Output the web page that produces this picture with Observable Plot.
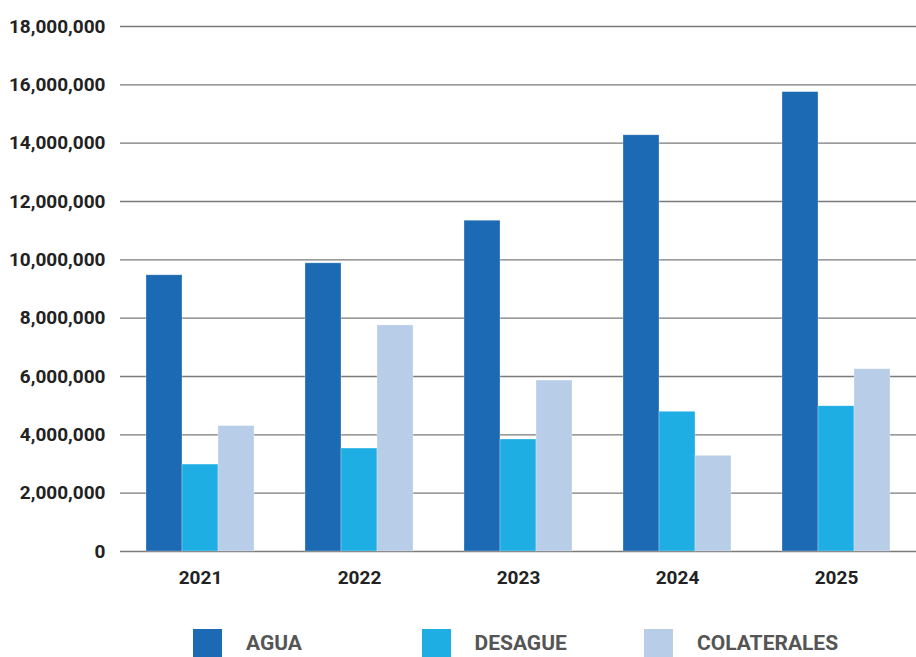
<!DOCTYPE html>
<html>
<head>
<meta charset="utf-8">
<script src="https://cdn.jsdelivr.net/npm/d3@7"></script>
<script src="https://cdn.jsdelivr.net/npm/@observablehq/plot@0.6"></script>
<style>
  body { margin: 0; background: #fff; font-family: Roboto, "Open Sans", sans-serif; }
  #chart { position: relative; width: 916px; height: 600px; }
  #chart svg { display: block; position: absolute; left: 0; top: 0; }
  .legend { position: relative; height: 57px; margin-top: 29px; }
  .item { position: absolute; top: 0; display: flex; align-items: center; }
  .sw { width: 29px; height: 29px; margin-right: 24px; }
  .lab { font-size: 21px; font-weight: 700; color: #555; line-height: 29px; }
</style>
</head>
<body>
<div id="chart"></div>
<div class="legend" id="legend"></div>
<script>
const years = ["2021", "2022", "2023", "2024", "2025"];
const seriesNames = ["AGUA", "DESAGUE", "COLATERALES"];
const agua = [9470000, 9880000, 11340000, 14270000, 15750000];
const desague = [2980000, 3530000, 3840000, 4790000, 4980000];
const colaterales = [4300000, 7750000, 5860000, 3280000, 6250000];
const colors = ["#1C6AB3", "#1EAEE3", "#B8CEE8"];
const yTicks = [0, 2000000, 4000000, 6000000, 8000000, 10000000, 12000000, 14000000, 16000000, 18000000];

const valuesBySeries = [agua, desague, colaterales];
const data = [];
years.forEach((yr, i) => {
  seriesNames.forEach((s, j) => {
    data.push({year: yr, series: s, value: valuesBySeries[j][i]});
  });
});

const fmt = d3.format(",");
const common = {
  width: 916,
  height: 600,
  marginTop: 26,
  marginBottom: 49,
  marginLeft: 120,
  marginRight: 0,
  y: {domain: [0, 18000000], label: null}
};

// background layer: grid lines and y axis spanning the whole plot width
const back = Plot.plot({
  ...common,
  style: {fontFamily: "Roboto, sans-serif", fontSize: "19px", fontWeight: 700, color: "#222", background: "#fff"},
  marks: [
    Plot.ruleY(yTicks, {stroke: "#7a7a7a", strokeWidth: 1.4}),
    Plot.axisY({ticks: yTicks, tickFormat: fmt, tickSize: 0, tickPadding: 15, label: null, fill: "#222", fontSize: 19, fontWeight: 700})
  ]
});

// foreground layer: grouped bars and year labels
const front = Plot.plot({
  ...common,
  style: {fontFamily: "Roboto, sans-serif", fontSize: "19px", fontWeight: 700, color: "#222", background: "transparent"},
  fx: {domain: years, paddingInner: 0.32, paddingOuter: 0.15, label: null},
  x: {domain: seriesNames, padding: 0, axis: null},
  color: {domain: seriesNames, range: colors},
  marks: [
    Plot.axisY({ticks: [], label: null}),
    Plot.axisFx({anchor: "bottom", tickSize: 0, tickPadding: 19, label: null, fill: "#222", fontSize: 19, fontWeight: 700}),
    Plot.barY(data, {fx: "year", x: "series", y: "value", fill: "series", stroke: "#ffffff", strokeOpacity: 0.35, strokeWidth: 0.8, inset: 0})
  ]
});

const chart = document.getElementById("chart");
chart.appendChild(back);
chart.appendChild(front);

const legendLeft = [193, 421.5, 644];
const legend = document.getElementById("legend");
seriesNames.forEach((s, i) => {
  const it = document.createElement("div");
  it.className = "item";
  it.style.left = legendLeft[i] + "px";
  const sw = document.createElement("div");
  sw.className = "sw";
  sw.style.background = colors[i];
  const lab = document.createElement("span");
  lab.className = "lab";
  lab.textContent = s;
  it.appendChild(sw);
  it.appendChild(lab);
  legend.appendChild(it);
});
</script>
</body>
</html>
